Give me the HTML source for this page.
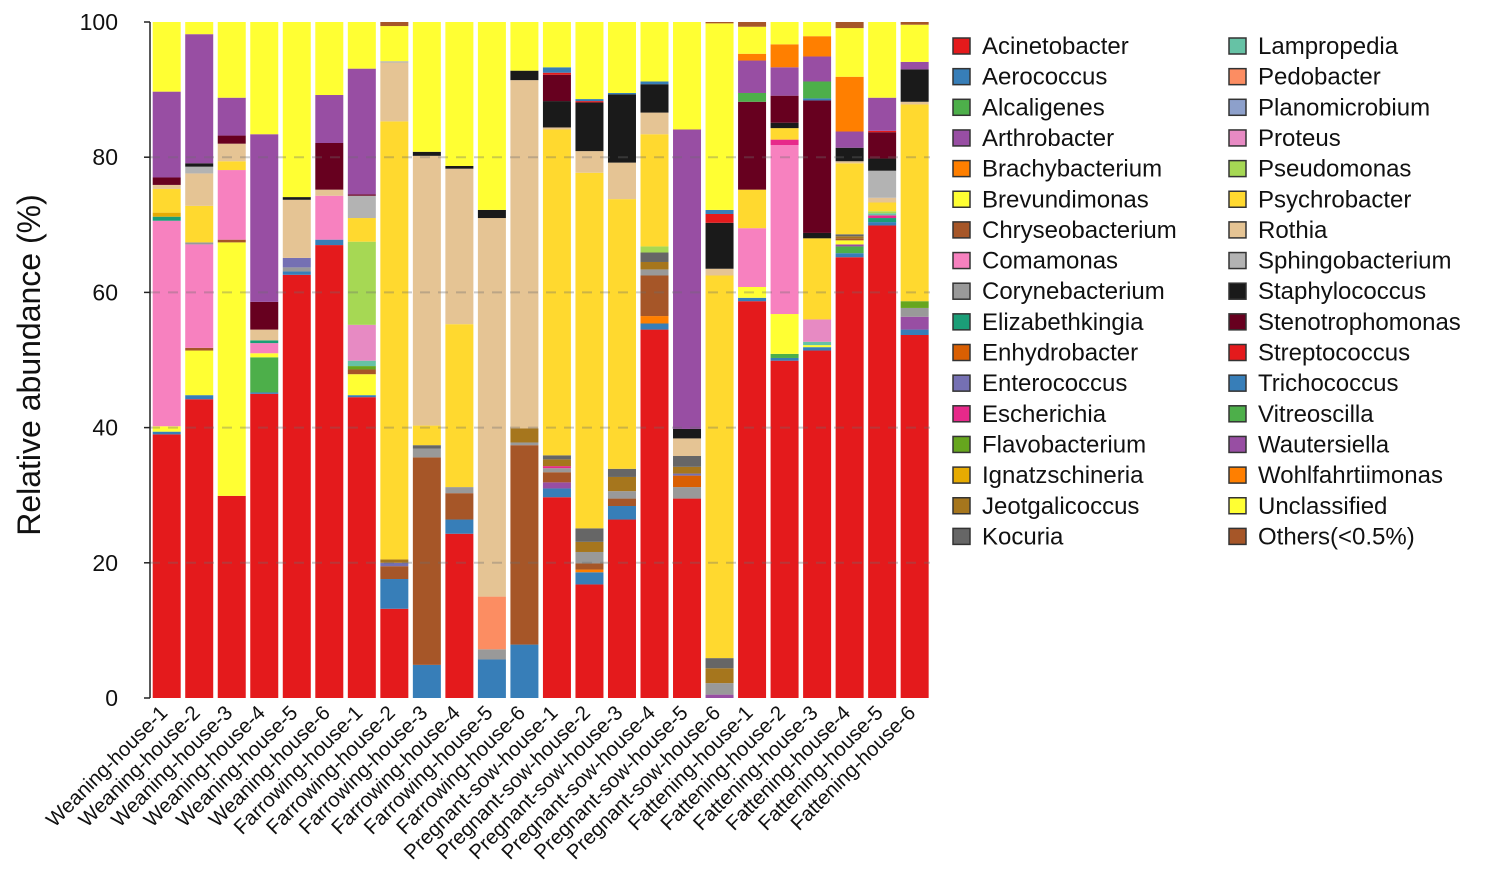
<!DOCTYPE html>
<html><head><meta charset="utf-8"><style>
body{margin:0;background:#fff;}
svg{display:block;font-family:"Liberation Sans",sans-serif;}
</style></head><body>
<svg id="chart" width="1500" height="886" viewBox="0 0 1500 886"></svg>
<script>
const samples=["Weaning-house-1","Weaning-house-2","Weaning-house-3","Weaning-house-4","Weaning-house-5","Weaning-house-6","Farrowing-house-1","Farrowing-house-2","Farrowing-house-3","Farrowing-house-4","Farrowing-house-5","Farrowing-house-6","Pregnant-sow-house-1","Pregnant-sow-house-2","Pregnant-sow-house-3","Pregnant-sow-house-4","Pregnant-sow-house-5","Pregnant-sow-house-6","Fattening-house-1","Fattening-house-2","Fattening-house-3","Fattening-house-4","Fattening-house-5","Fattening-house-6"];
const yTicks=[0,20,40,60,80,100];
const genera=["Acinetobacter","Aerococcus","Alcaligenes","Arthrobacter","Brachybacterium","Brevundimonas","Chryseobacterium","Comamonas","Corynebacterium","Elizabethkingia","Enhydrobacter","Enterococcus","Escherichia","Flavobacterium","Ignatzschineria","Jeotgalicoccus","Kocuria","Lampropedia","Pedobacter","Planomicrobium","Proteus","Pseudomonas","Psychrobacter","Rothia","Sphingobacterium","Staphylococcus","Stenotrophomonas","Streptococcus","Trichococcus","Vitreoscilla","Wautersiella","Wohlfahrtiimonas","Unclassified","Others(<0.5%)"];
const colors=["#e41a1c","#377eb8","#4daf4a","#984ea3","#ff7f00","#ffff33","#a65628","#f781bf","#999999","#1b9e77","#d95f02","#7570b3","#e7298a","#66a61e","#e6ab02","#a6761d","#666666","#66c2a5","#fc8d62","#8da0cb","#e78ac3","#a6d854","#ffd92f","#e5c494","#b3b3b3","#1a1a1a","#67001f","#e41a1c","#377eb8","#4daf4a","#984ea3","#ff7f00","#ffff33","#a65628"];
const Acinetobacter=[39,44.2,29.9,45,62.6,67,44.5,13.2,0,24.3,0,0,29.7,16.8,26.4,54.5,29.5,0,58.7,49.9,51.4,65.2,69.9,53.7];
const Aerococcus=[0.4,0.6,0,0.2,0.5,0.8,0.3,4.4,4.9,2.1,5.7,7.9,1.3,1.8,2,0.9,0,0,0.5,0.4,0.5,0.6,0.5,0.8];
const Alcaligenes=[0,0,0,5.2,0,0,0,0,0,0,0,0,0,0,0,0,0,0,0,0.6,0,1,0,0];
const Arthrobacter=[0,0,0,0,0,0,0,0,0,0,0,0,0.9,0,0,0,0,0.5,0,0,0,0.3,0,1.9];
const Brachybacterium=[0,0,0,0,0,0,0,0,0,0,0,0,0,0.4,0,1.1,0,0,0,0,0,0,0,0];
const Brevundimonas=[0.8,6.6,37.5,0.6,0,0,3.1,0,0,0,0,0,0,0,0,0,0,0,1.6,5.9,0.3,0.6,0,0];
const Chryseobacterium=[0,0.4,0.4,0,0,0,0.7,1.9,30.7,3.9,0,29.5,1.5,0.9,1.1,6,0,0,0,0,0,0.3,0,0];
const Comamonas=[30.4,15.3,10.3,1.5,0,6.5,0,0,0,0,0,0,0,0,0,0,0,0,8.7,25,0,0,0,0];
const Corynebacterium=[0,0.3,0,0,0.6,0,0,0,1.3,0.9,1.5,0.4,0.6,1.7,1.1,0.9,1.7,1.7,0,0,0,0,0,1.3];
const Elizabethkingia=[0.6,0,0,0.4,0,0,0,0,0,0,0,0,0,0,0,0,0,0,0,0,0,0,0.6,0];
const Enhydrobacter=[0,0,0,0,0,0,0,0,0,0,0,0,0,0,0,0,1.7,0,0,0,0,0,0,0];
const Enterococcus=[0,0,0,0,1.4,0,0,0.5,0,0,0,0,0,0,0,0,0.3,0,0,0,0,0,0,0];
const Escherichia=[0,0,0,0,0,0,0,0,0,0,0,0,0.3,0,0,0,0,0,0,0.8,0,0,0.4,0];
const Flavobacterium=[0,0,0,0,0,0,0.5,0,0,0,0,0,0,0,0,0,0,0,0,0,0,0,0,1];
const Ignatzschineria=[0.6,0,0,0,0,0,0,0,0,0,0,0,0,0,0,0,0,0,0,0,0,0,0,0];
const Jeotgalicoccus=[0,0,0,0,0,0,0,0.5,0,0,0,2.1,1,1.5,2.1,1.1,1,2.2,0,0,0,0.3,0,0];
const Kocuria=[0,0,0,0,0,0,0,0,0.5,0,0,0,0.6,2,1.2,1.4,1.6,1.5,0,0,0,0.3,0,0];
const Lampropedia=[0,0,0,0,0,0,0.8,0,0,0,0,0,0,0,0,0,0,0,0,0,0.5,0,0.3,0];
const Pedobacter=[0,0,0,0,0,0,0,0,0,0,7.8,0,0,0,0,0,0,0,0,0,0,0,0,0];
const Planomicrobium=[0,0,0,0,0,0,0,0,0,0,0,0,0,0,0,0,0,0,0,0,0,0,0,0];
const Proteus=[0,0,0,0,0,0,5.3,0,0,0,0,0,0,0,0,0,0,0,0,0,3.3,0,0,0];
const Pseudomonas=[0,0,0,0,0,0,12.3,0,0,0,0,0,0,0,0,0.9,0,0,0,0,0,0,0.3,0];
const Psychrobacter=[3.5,5.4,1.3,0,0,0,3.5,64.8,2.9,24.1,0,0,48.2,52.6,39.9,16.6,0,56.6,5.7,1.7,12,10.5,1.3,29.1];
const Rothia=[0.6,4.8,2.6,1.6,8.6,0.9,0,8.7,39.9,23,56,51.5,0.3,3.2,5.4,3.2,2.6,1,0,0,0,0.3,0.7,0.4];
const Sphingobacterium=[0,1,0,0,0,0,3.3,0.2,0,0,0,0,0,0,0,0,0,0,0,0,0,0,4,0];
const Staphylococcus=[0,0.5,0,0,0.4,0,0,0,0.6,0.4,1.2,1.4,3.9,7.2,10.1,4.2,1.4,6.8,0,0.8,0.8,2,1.8,4.8];
const Stenotrophomonas=[1.1,0,1.2,4.1,0,6.9,0.2,0,0,0,0,0,3.9,0,0,0,0,0,13,4,19.6,0,3.9,0];
const Streptococcus=[0,0,0,0,0,0,0,0,0,0,0,0,0.3,0.2,0,0,0,1.3,0,0,0,0,0.2,0];
const Trichococcus=[0,0,0,0,0,0,0,0,0,0,0,0,0.8,0.3,0.2,0.4,0,0.6,0,0,0.3,0,0,0];
const Vitreoscilla=[0,0,0,0,0,0,0,0,0,0,0,0,0,0,0,0,0,0,1.3,0,2.5,0,0,0];
const Wautersiella=[12.7,19.1,5.6,24.8,0,7.1,18.6,0,0,0,0,0,0,0,0,0,44.3,0,4.8,4.2,3.7,2.4,4.9,1.1];
const Wohlfahrtiimonas=[0,0,0,0,0,0,0,0,0,0,0,0,0,0,0,0,0,0,1,3.4,3,8.1,0,0];
const Unclassified=[10.3,1.8,11.2,16.6,25.9,10.8,6.9,5.2,19.2,21.3,27.8,7.2,6.7,11.4,10.5,8.8,15.9,27.6,4,3.3,2.1,7.2,11.2,5.5];
const Others=[0,0,0,0,0,0,0,0.6,0,0,0,0,0,0,0,0,0,0.2,0.7,0,0,0.9,0,0.4];
const series=[Acinetobacter,Aerococcus,Alcaligenes,Arthrobacter,Brachybacterium,Brevundimonas,Chryseobacterium,Comamonas,Corynebacterium,Elizabethkingia,Enhydrobacter,Enterococcus,Escherichia,Flavobacterium,Ignatzschineria,Jeotgalicoccus,Kocuria,Lampropedia,Pedobacter,Planomicrobium,Proteus,Pseudomonas,Psychrobacter,Rothia,Sphingobacterium,Staphylococcus,Stenotrophomonas,Streptococcus,Trichococcus,Vitreoscilla,Wautersiella,Wohlfahrtiimonas,Unclassified,Others];

const NS="http://www.w3.org/2000/svg";
const svg=document.getElementById('chart');
const X0=152.7,PITCH=32.52,BW=28,Y0=698,Y100=22;
function y(v){return Y0-(Y0-Y100)*v/100;}
function x(i){return X0+i*PITCH;}
function mk(tag,attrs,parent){const e=document.createElementNS(NS,tag);for(const k in attrs)e.setAttribute(k,attrs[k]);(parent||svg).appendChild(e);return e;}

const barsG=mk('g',{});


samples.forEach((s,i)=>{
  let cum=0;
  series.forEach((arr,g)=>{
    const v=arr[i];
    if(v>0){
      const r=mk('rect',{x:x(i),y:y(cum+v),width:BW,height:y(cum)-y(cum+v),fill:colors[g]},barsG);
      
      
      cum+=v;
    }
  });
});
yTicks.forEach(t=>{
  if(t===0||t===100)return;
  const l=mk('line',{x1:150,x2:930,y1:y(t),y2:y(t),stroke:'rgba(110,110,110,0.35)','stroke-width':2,'stroke-dasharray':'10 8'});
  
  
});
const ax=mk('line',{x1:150,x2:150,y1:Y100,y2:Y0,stroke:'#222','stroke-width':1.5});


yTicks.forEach(t=>{
  const tk=mk('line',{x1:144,x2:150,y1:y(t),y2:y(t),stroke:'#222','stroke-width':1.5});
  
  
  const tx=mk('text',{x:118,y:y(t)+8,'text-anchor':'end','font-size':23,fill:'#111'});
  tx.textContent=t;
  
  
});
const yt=mk('text',{x:0,y:0,transform:'translate(40,365) rotate(-90)','text-anchor':'middle','font-size':32,fill:'#111'});
yt.textContent='Relative abundance (%)';


samples.forEach((s,i)=>{
  const cx=x(i)+BW/2+2;
  const t=mk('text',{transform:`translate(${cx},714) rotate(-45)`,'text-anchor':'end','font-size':20.5,fill:'#111'});
  t.textContent=s;
  
  
});
const lg=mk('g',{});


genera.forEach((n,g)=>{
  const col=g<17?0:1, row=g<17?g:g-17;
  const lx=col?1229:953, ly=46+row*30.65;
  const e=mk('g',{},lg);
  
  
  mk('rect',{x:lx,y:ly-8,width:17,height:16,fill:colors[g],stroke:'#333','stroke-width':1.5},e);
  const t=mk('text',{x:lx+29,y:ly+8,'font-size':24,fill:'#111'},e);
  t.textContent=n;
});
</script>
</body></html>
